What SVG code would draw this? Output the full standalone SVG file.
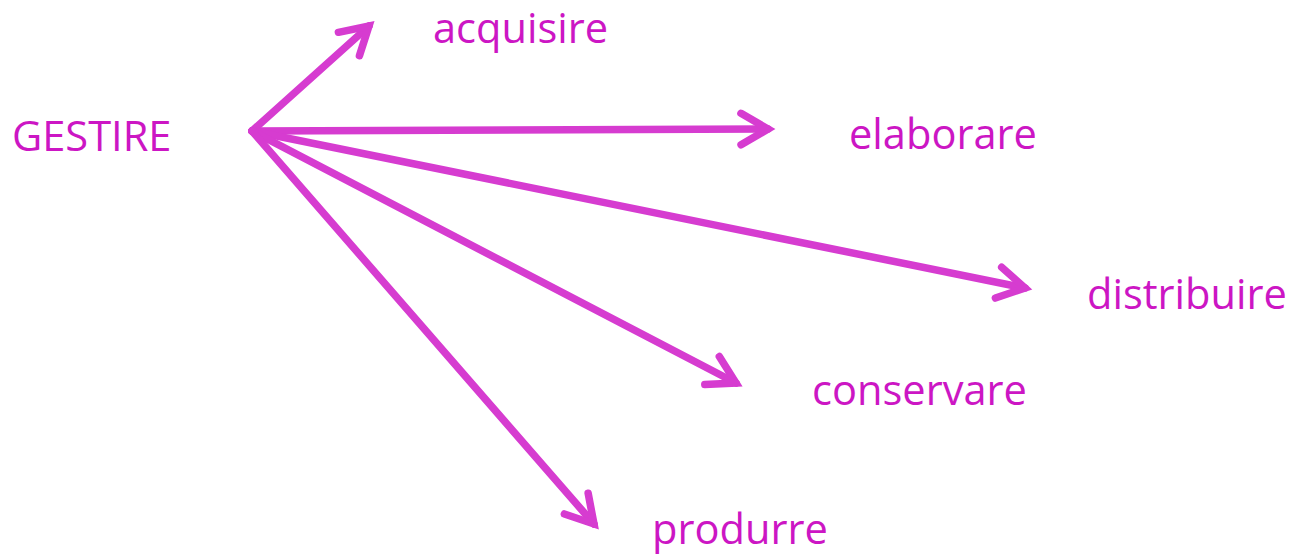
<svg xmlns="http://www.w3.org/2000/svg" width="1289" height="556" viewBox="0 0 1289 556">
  <style>
    .label { font-family: "Open Sans", "Noto Sans", sans-serif; font-size: 41.6px; fill: #CC16C4; }
    .link { stroke: #D63CD0; stroke-width: 7.5; fill: none; stroke-linecap: round; stroke-linejoin: round; }
  </style>
  <defs>
    <!-- open chevron head, sized in stroke-width units -->
    <marker id="head" viewBox="-6 -4 8 8" markerWidth="8" markerHeight="8" refX="0" refY="0" orient="auto" overflow="visible">
      <path d="M-3.6 -2.1 L0 0 L-3.6 2.1" fill="none" stroke="#D63CD0" stroke-width="1" stroke-linecap="round" stroke-linejoin="miter" stroke-miterlimit="6"/>
    </marker>
  </defs>
  <rect width="1289" height="556" fill="#FFFFFF"/>
  <g id="connectors">
    <path class="link" d="M252 131 L369 26" marker-end="url(#head)"/>
    <path class="link" d="M252 131 L768 129" marker-end="url(#head)"/>
    <path class="link" d="M252 131 L1025 288" marker-end="url(#head)"/>
    <path class="link" d="M252 131 L736 383" marker-end="url(#head)"/>
    <path class="link" d="M252 131 L594 524" marker-end="url(#head)"/>
  </g>
  <g id="gestire"><text class="label" x="12" y="151">GESTIRE</text></g>
  <g id="acquisire"><text class="label" x="433" y="43">acquisire</text></g>
  <g id="elaborare"><text class="label" x="849" y="149">elaborare</text></g>
  <g id="distribuire"><text class="label" x="1087" y="309">distribuire</text></g>
  <g id="conservare"><text class="label" x="812" y="405">conservare</text></g>
  <g id="produrre"><text class="label" x="652" y="544">produrre</text></g>
</svg>
